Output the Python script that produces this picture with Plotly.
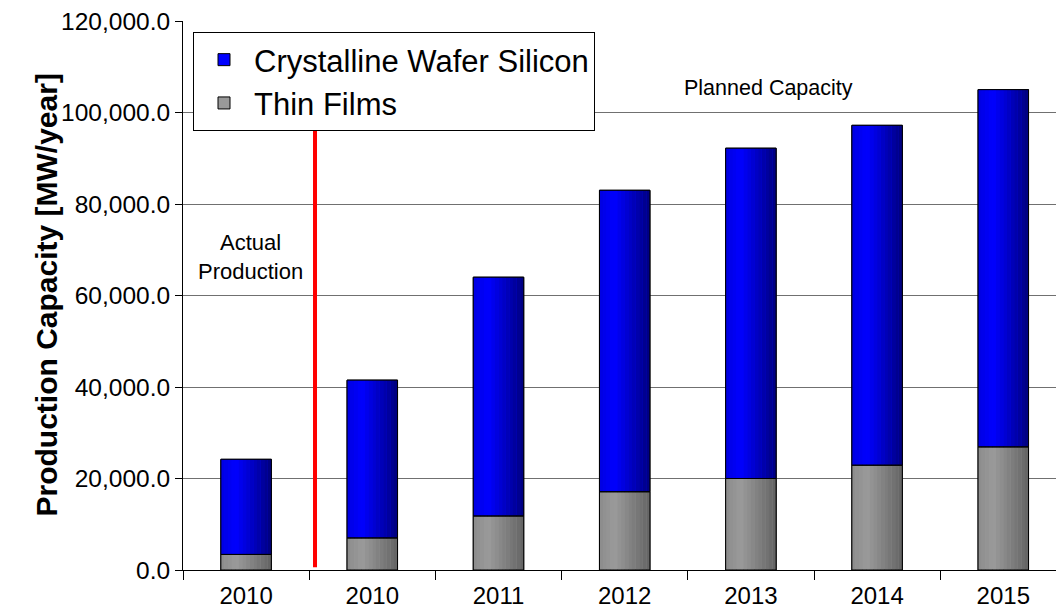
import plotly.graph_objects as go

categories = ["2010 actual", "2010", "2011", "2012", "2013", "2014", "2015"]
tick_labels = ["2010", "2010", "2011", "2012", "2013", "2014", "2015"]
thin_films = [3400, 7000, 11800, 17100, 20000, 22900, 26900]
crystalline = [20800, 34500, 52200, 65900, 72200, 74300, 78100]

BAR_W = 0.40
N_SLICES = 14


def shade(t, lo, mid, hi):
    # brightness across the bar: slightly darker at left, brightest ~30%, darkest at right
    if t < 0.3:
        return lo + (mid - lo) * t / 0.3
    return mid + (hi - mid) * (t - 0.3) / 0.7


fig = go.Figure()

# legend entries (solid swatches)
fig.add_trace(go.Bar(x=categories, y=crystalline, base=thin_films, name="Crystalline Wafer Silicon",
                     width=BAR_W, marker=dict(color="#0000ff", line=dict(color="#000000", width=1))))
fig.add_trace(go.Bar(x=categories, y=thin_films, base=[0] * len(thin_films), name="Thin Films",
                     width=BAR_W, marker=dict(color="#999999", line=dict(color="#000000", width=1))))

# gradient slices
sw = BAR_W / N_SLICES
for i in range(N_SLICES):
    t = (i + 0.5) / N_SLICES
    off = -BAR_W / 2 + i * sw
    b = shade(t, 225, 255, 125)
    g = shade(t, 140, 155, 100)
    fig.add_trace(go.Bar(x=categories, y=crystalline, base=thin_films, width=sw * 1.02, offset=off,
                         marker=dict(color=f"rgb(0,0,{int(b)})", line=dict(width=0)),
                         showlegend=False, hoverinfo="skip"))
    fig.add_trace(go.Bar(x=categories, y=thin_films, base=[0] * len(thin_films), width=sw * 1.02, offset=off,
                         marker=dict(color=f"rgb({int(g)},{int(g)},{int(g)})", line=dict(width=0)),
                         showlegend=False, hoverinfo="skip"))

# outlines
fig.add_trace(go.Bar(x=categories, y=crystalline, base=thin_films, width=BAR_W,
                     marker=dict(color="rgba(0,0,0,0)", line=dict(color="#000000", width=1)),
                     showlegend=False, hoverinfo="skip"))
fig.add_trace(go.Bar(x=categories, y=thin_films, base=[0] * len(thin_films), width=BAR_W,
                     marker=dict(color="rgba(0,0,0,0)", line=dict(color="#000000", width=1)),
                     showlegend=False, hoverinfo="skip"))

L, R, T, B = 183, 0, 21, 39
plot_w = 1056 - L - R
plot_h = 609 - T - B
CAT_PX = 126.2

fig.update_layout(
    barmode="overlay",
    width=1056, height=609,
    margin=dict(l=L, r=R, t=T, b=B),
    plot_bgcolor="white", paper_bgcolor="white",
    font=dict(family="Arial, Liberation Sans, sans-serif", color="#000000"),
    legend=dict(
        x=(193 - L) / plot_w, y=1 - (32 - T) / plot_h, xanchor="left", yanchor="top",
        bordercolor="#000000", borderwidth=1, bgcolor="white",
        font=dict(size=31), traceorder="normal", itemwidth=50,
    ),
    xaxis=dict(
        type="category", categoryorder="array", categoryarray=categories,
        range=[-0.5, -0.5 + plot_w / CAT_PX],
        tickvals=categories, ticktext=tick_labels, automargin=False,
        tickson="boundaries", ticks="outside", ticklen=9, tickcolor="#000000",
        ticklabelstandoff=4,
        showline=True, linecolor="#000000", linewidth=1,
        tickfont=dict(size=24), showgrid=False,
    ),
    yaxis=dict(
        range=[0, 120000], tickvals=[0, 20000, 40000, 60000, 80000, 100000, 120000],
        tickformat=",.1f", ticks="outside", ticklen=7, tickcolor="#000000",
        showline=True, linecolor="#000000", linewidth=1, automargin=False,
        showgrid=True, gridcolor="#707070", gridwidth=1,
        tickfont=dict(size=24.5), zeroline=False,
    ),
)

fig.add_annotation(x=-(L - 46) / plot_w, y=0.5, xref="paper", yref="paper",
                   text="<b>Production Capacity [MW/year]</b>", textangle=-90,
                   showarrow=False, font=dict(size=30), xanchor="center", yanchor="middle")

fig.add_shape(type="line", xref="x", yref="y", x0=0.546, x1=0.546, y0=600, y1=96550,
              line=dict(color="#ff0000", width=4))

fig.add_annotation(x=0.031, y=68400, xref="x", yref="y", text="Actual<br>Production",
                   showarrow=False, font=dict(size=22))
fig.add_annotation(x=4.143, y=105400, xref="x", yref="y", text="Planned Capacity",
                   showarrow=False, font=dict(size=21.5))

fig.write_html("out.html", config={"displayModeBar": False},
               post_script="document.body.style.margin='0px';")
